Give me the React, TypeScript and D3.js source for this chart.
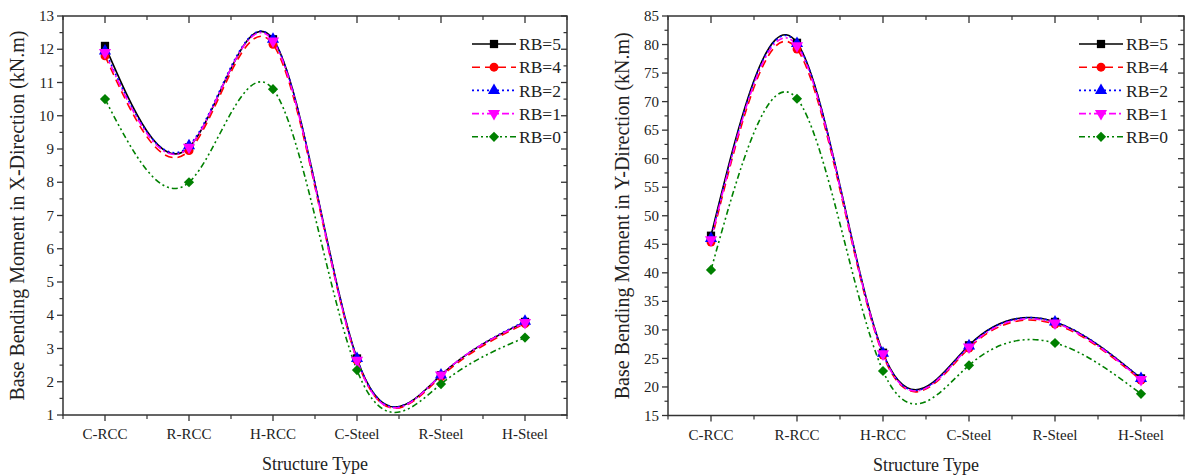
import React from "react";
import * as d3 from "d3";

const categories = ["C-RCC", "R-RCC", "H-RCC", "C-Steel", "R-Steel", "H-Steel"];
const seriesNames = ["RB=5", "RB=4", "RB=2", "RB=1", "RB=0"];

// X-direction base bending moment (kN.m)
const xRB5 = [12.1, 9.05, 12.3, 2.7, 2.2, 3.8];
const xRB4 = [11.8, 8.95, 12.15, 2.65, 2.15, 3.75];
const xRB2 = [11.95, 9.1, 12.3, 2.7, 2.2, 3.82];
const xRB1 = [11.9, 9.05, 12.25, 2.65, 2.2, 3.78];
const xRB0 = [10.5, 8.0, 10.8, 2.35, 1.93, 3.33];

// Y-direction base bending moment (kN.m)
const yRB5 = [46.5, 80.3, 26.0, 27.3, 31.4, 21.5];
const yRB4 = [45.4, 79.2, 25.6, 26.8, 31.0, 21.2];
const yRB2 = [46.0, 80.2, 25.9, 27.2, 31.4, 21.5];
const yRB1 = [45.8, 79.8, 25.8, 27.0, 31.2, 21.3];
const yRB0 = [40.5, 70.5, 22.8, 23.8, 27.7, 18.8];

const xTickValues = d3.range(1, 14, 1);
const yTickValues = d3.range(15, 86, 5);

const styles = [
  { color: "#000000", dash: "none", shape: "square" },
  { color: "#ff0000", dash: "8,5", shape: "circle" },
  { color: "#0000ff", dash: "2,3", shape: "triUp" },
  { color: "#ff00ff", dash: "7,3,2,3", shape: "triDown" },
  { color: "#008000", dash: "6,3,2,3,2,3", shape: "diamond" },
];

const FONT = "'Liberation Serif', 'Times New Roman', serif";

function markerPath(shape: string): { d: string; rot: number } {
  switch (shape) {
    case "square":
      return { d: d3.symbol(d3.symbolSquare, 68)() as string, rot: 0 };
    case "circle":
      return { d: d3.symbol(d3.symbolCircle, 62)() as string, rot: 0 };
    case "triUp":
      return { d: d3.symbol(d3.symbolTriangle, 64)() as string, rot: 0 };
    case "triDown":
      return { d: d3.symbol(d3.symbolTriangle, 64)() as string, rot: 180 };
    default:
      return { d: d3.symbol(d3.symbolSquare, 52)() as string, rot: 45 };
  }
}

type PanelProps = {
  x0: number;
  x1: number;
  yTop: number;
  yBot: number;
  domain: [number, number];
  ticks: number[];
  minorStep: number;
  series: number[][];
  yTitle: string;
  legendX: number;
};

function Panel(p: PanelProps) {
  const x = d3.scaleLinear().domain([-0.5, categories.length - 0.5]).range([p.x0, p.x1]);
  const y = d3.scaleLinear().domain(p.domain).range([p.yBot, p.yTop]);
  const minor = d3.range(p.domain[0], p.domain[1] + 1e-9, p.minorStep).filter(
    (v) => !p.ticks.some((t) => Math.abs(t - v) < 1e-9)
  );
  const catIdx = categories.map((_, i) => i);
  const bounds = d3.range(0, categories.length + 1).map((i) => i - 0.5);
  const line = d3
    .line<number>()
    .x((_, i) => x(i))
    .y((d) => y(d))
    .curve(d3.curveNatural);
  const axisColor = "#333";
  const cx = (p.x0 + p.x1) / 2;
  const cy = (p.yTop + p.yBot) / 2;
  return (
    <g>
      {p.series.map((s, si) => (
        <path
          key={"l" + si}
          d={line(s) as string}
          fill="none"
          stroke={styles[si].color}
          strokeWidth={1.6}
          strokeDasharray={styles[si].dash}
        />
      ))}
      {p.series.map((s, si) => {
        const m = markerPath(styles[si].shape);
        return s.map((v, i) => (
          <path
            key={"m" + si + "-" + i}
            d={m.d}
            transform={`translate(${x(i)},${y(v)}) rotate(${m.rot})`}
            fill={styles[si].color}
          />
        ));
      })}
      <rect
        x={p.x0}
        y={p.yTop}
        width={p.x1 - p.x0}
        height={p.yBot - p.yTop}
        fill="none"
        stroke={axisColor}
        strokeWidth={1.5}
      />
      {p.ticks.map((t) => (
        <g key={"yt" + t}>
          <line x1={p.x0 - 6} x2={p.x0} y1={y(t)} y2={y(t)} stroke={axisColor} strokeWidth={1.3} />
          <line x1={p.x1 - 6} x2={p.x1} y1={y(t)} y2={y(t)} stroke={axisColor} strokeWidth={1.3} />
          <text
            x={p.x0 - 9}
            y={y(t)}
            dy="0.34em"
            textAnchor="end"
            fontSize={15}
            fontFamily={FONT}
            fill="#222"
          >
            {t}
          </text>
        </g>
      ))}
      {minor.map((t) => (
        <g key={"ym" + t}>
          <line x1={p.x0 - 3.5} x2={p.x0} y1={y(t)} y2={y(t)} stroke={axisColor} strokeWidth={1.2} />
          <line x1={p.x1 - 3.5} x2={p.x1} y1={y(t)} y2={y(t)} stroke={axisColor} strokeWidth={1.2} />
        </g>
      ))}
      {catIdx.map((i) => (
        <g key={"xt" + i}>
          <line x1={x(i)} x2={x(i)} y1={p.yBot} y2={p.yBot + 6} stroke={axisColor} strokeWidth={1.3} />
          <line x1={x(i)} x2={x(i)} y1={p.yTop} y2={p.yTop + 7} stroke={axisColor} strokeWidth={1.3} />
          <text
            x={x(i)}
            y={p.yBot + 24}
            textAnchor="middle"
            fontSize={15}
            fontFamily={FONT}
            fill="#222"
          >
            {categories[i]}
          </text>
        </g>
      ))}
      {bounds.map((b) => (
        <g key={"xb" + b}>
          <line x1={x(b)} x2={x(b)} y1={p.yBot} y2={p.yBot + 4} stroke={axisColor} strokeWidth={1.2} />
          <line x1={x(b)} x2={x(b)} y1={p.yTop} y2={p.yTop + 4} stroke={axisColor} strokeWidth={1.2} />
        </g>
      ))}
      <text
        x={cx}
        y={p.yBot + 55}
        textAnchor="middle"
        fontSize={18}
        fontFamily={FONT}
        fill="#222"
      >
        Structure Type
      </text>
      <text
        transform={`translate(${p.x0 - 39},${cy}) rotate(-90)`}
        textAnchor="middle"
        fontSize={20}
        fontFamily={FONT}
        fill="#222"
      >
        {p.yTitle}
      </text>
      {seriesNames.map((n, si) => {
        const ly = 44 + si * 23.2;
        const m = markerPath(styles[si].shape);
        const lx = p.legendX;
        return (
          <g key={"lg" + si}>
            <line
              x1={lx}
              x2={lx + 44}
              y1={ly}
              y2={ly}
              stroke={styles[si].color}
              strokeWidth={1.6}
              strokeDasharray={styles[si].dash}
            />
            <path d={m.d} transform={`translate(${lx + 22},${ly}) rotate(${m.rot})`} fill={styles[si].color} />
            <text x={lx + 47} y={ly} dy="0.35em" fontSize={17.5} fontFamily={FONT} fill="#222">
              {n}
            </text>
          </g>
        );
      })}
    </g>
  );
}

export default function App() {
  return (
    <svg
      width={1186}
      height={476}
      style={{ position: "absolute", left: 0, top: 0, background: "#fff" }}
    >
      <rect width={1186} height={476} fill="#fff" />
      <Panel
        x0={63}
        x1={567}
        yTop={16}
        yBot={415}
        domain={[1, 13]}
        ticks={xTickValues}
        minorStep={0.5}
        series={[xRB5, xRB4, xRB2, xRB1, xRB0]}
        yTitle="Base Bending Moment in X-Direction (kN.m)"
        legendX={472}
      />
      <Panel
        x0={668}
        x1={1184}
        yTop={16}
        yBot={415.5}
        domain={[15, 85]}
        ticks={yTickValues}
        minorStep={2.5}
        series={[yRB5, yRB4, yRB2, yRB1, yRB0]}
        yTitle="Base Bending Moment in Y-Direction (kN.m)"
        legendX={1079}
      />
    </svg>
  );
}
